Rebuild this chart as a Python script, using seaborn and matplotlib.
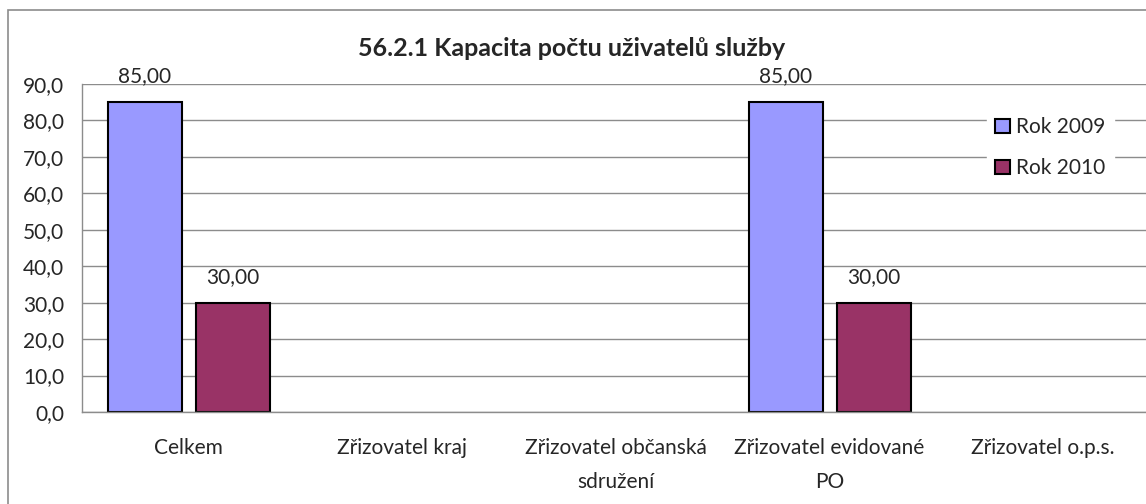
import numpy as np
import pandas as pd
import matplotlib
matplotlib.use("Agg")
import matplotlib.pyplot as plt
from matplotlib.patches import Rectangle
from matplotlib.ticker import FuncFormatter
import seaborn as sns

# data
categories = ["Celkem", "Zřizovatel kraj", "Zřizovatel občanská\nsdružení",
              "Zřizovatel evidované\nPO", "Zřizovatel o.p.s."]
series_names = ["Rok 2009", "Rok 2010"]
vals_2009 = [85.0, np.nan, np.nan, 85.0, np.nan]
vals_2010 = [30.0, np.nan, np.nan, 30.0, np.nan]
colors = {"Rok 2009": "#9999FF", "Rok 2010": "#993366"}

df = pd.DataFrame({
    "kategorie": categories * 2,
    "rok": [series_names[0]] * 5 + [series_names[1]] * 5,
    "hodnota": vals_2009 + vals_2010,
}).dropna()

sns.set_style("white")
plt.rcParams["font.family"] = ["Lato", "DejaVu Sans"]

W, H = 1146, 504
fig = plt.figure(figsize=(W / 100, H / 100), dpi=100)
ax = fig.add_axes([82 / W, (H - 412) / H, (1150 - 82) / W, (412 - 84) / H])

sns.barplot(data=df, x="kategorie", y="hodnota", hue="rok", order=categories,
            hue_order=series_names, palette=colors, width=0.824, gap=0.16,
            edgecolor="black", linewidth=1.5, saturation=1, ax=ax)

ax.set_xlim(-0.5, 4.5)
ax.set_ylim(0, 90)
ax.set_yticks(np.arange(0, 91, 10))
ax.yaxis.set_major_formatter(FuncFormatter(lambda v, p: f"{v:.1f}".replace(".", ",")))
ax.yaxis.grid(True, color="#8c8c8c", linewidth=1)
ax.set_axisbelow(True)
ax.set_xlabel("")
ax.set_ylabel("")
for s in ["top", "right"]:
    ax.spines[s].set_visible(False)
for s in ["left", "bottom"]:
    ax.spines[s].set_color("#8c8c8c")
    ax.spines[s].set_linewidth(1)
ax.tick_params(axis="y", length=0, pad=13, labelsize=15)
ax.tick_params(axis="x", length=0, pad=19, labelsize=15)
for t in ax.get_xticklabels():
    t.set_multialignment("center")
    t.set_linespacing(1.85)

for cont in ax.containers:
    ax.bar_label(cont, labels=[f"{b.get_height():.2f}".replace(".", ",") for b in cont],
                 padding=11.5, fontsize=15)

handles, labels = ax.get_legend_handles_labels()
leg = ax.legend(handles, labels, loc="upper left", bbox_to_anchor=(987 / W, (H - 109) / H),
                bbox_transform=fig.transFigure, frameon=True, fancybox=False,
                edgecolor="white", facecolor="white", framealpha=1,
                handlelength=0.7, handleheight=0.7, handletextpad=0.3,
                labelspacing=1.0, fontsize=15, borderpad=0.4, borderaxespad=0)

fig.text(572 / W, (H - 48) / H, "56.2.1 Kapacita počtu uživatelů služby",
         ha="center", va="center", fontsize=18, fontweight="bold")

fig.patches.append(Rectangle((8 / W, -0.1), 1.2, (H - 10) / H + 0.1,
                             transform=fig.transFigure, fill=False,
                             edgecolor="#8c8c8c", linewidth=1.2))

fig.savefig("out.png", dpi=100)
